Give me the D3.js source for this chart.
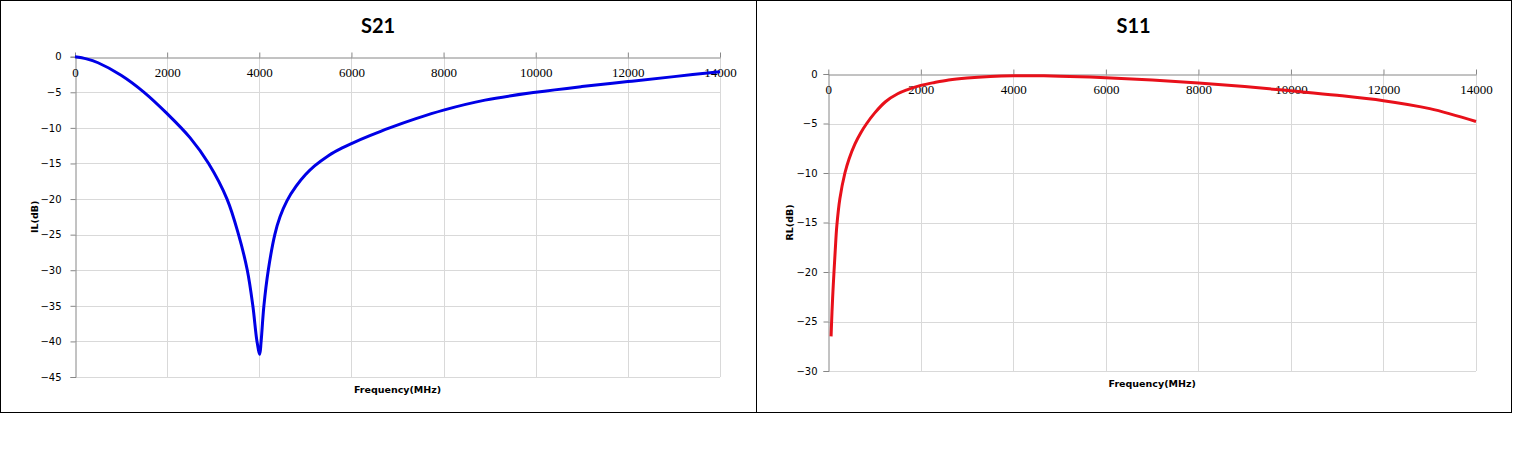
<!DOCTYPE html>
<html>
<head>
<meta charset="utf-8">
<script src="https://cdn.jsdelivr.net/npm/d3@7"></script>
<style>
  body { margin: 0; background: #fff; }
  svg { display: block; }
</style>
</head>
<body>
<svg id="page" width="1513" height="460"></svg>
<script>
/*
S21 / S11
Two frequency response charts side by side
*/

// X axis ticks (MHz)
var freqTicks = [0, 2000, 4000, 6000, 8000, 10000, 12000, 14000];

// S21 insertion loss
var s21Freq = [0, 250, 500, 1000, 1500, 2000, 2500, 2900, 3300, 3550, 3740, 3860, 3950, 4010,
  4040, 4100, 4195, 4337, 4450, 4600, 4800, 5000, 5200, 5500, 5800, 6000, 6400, 6830, 7400,
  8000, 8900, 10000, 11000, 12000, 13000, 14000];
var s21Loss = [0, -0.3, -0.85, -2.6, -5.0, -8.0, -11.4, -15.0, -20.0, -25.0, -30.0, -35.0, -40.0, -41.8,
  -40.0, -35.0, -30.0, -25.0, -22.5, -20.25, -18.2, -16.6, -15.35, -13.9, -12.8, -12.2, -11.1, -10.0, -8.7,
  -7.5, -6.1, -5.0, -4.2, -3.5, -2.8, -2.1];
var ilTicks = [0, -5, -10, -15, -20, -25, -30, -35, -40, -45];

// S11 return loss
var s11Freq = [60, 80, 100, 123, 150, 185, 250, 359, 450, 577, 700, 830, 1000, 1236, 1500, 1700,
  2000, 2300, 2600, 3000, 3500, 4000, 4500, 5000, 6000, 7000, 8000, 9000, 10000, 11000,
  12000, 13000, 14000];
var s11Loss = [-26.5, -24.0, -22.0, -20.0, -17.8, -15.3, -12.6, -10.0, -8.55, -7.05, -5.95, -5.0, -3.95, -2.8, -2.0, -1.6,
  -1.15, -0.85, -0.6, -0.4, -0.25, -0.18, -0.18, -0.22, -0.37, -0.6, -0.9, -1.27, -1.7, -2.15,
  -2.7, -3.5, -4.8];
var rlTicks = [0, -5, -10, -15, -20, -25, -30];

var svg = d3.select("#page");

// Draw one chart panel
function drawChart(o) {
  var g = svg.append("g")
    .attr("class", "chart " + o.id)
    ;

  // Outer frame
  g.append("rect")
    .attr("x", o.box[0] + 0.5)
    .attr("y", 0.5)
    .attr("width", o.box[1] - o.box[0])
    .attr("height", 412)
    .style("fill", "none")
    .style("stroke", "#000")
    .style("stroke-width", 1)
    ;

  var x = d3.scaleLinear().domain([0, 14000]).range(o.xr);
  var y = d3.scaleLinear().domain([o.yTicks[o.yTicks.length - 1], 0]).range(o.yr);

  // Horizontal gridlines
  g.append("g")
    .selectAll("line")
    .data(o.yTicks.slice(1))
    .enter().append("line")
      .attr("x1", o.xr[0])
      .attr("x2", o.xr[1])
      .attr("y1", function(d) { return Math.round(y(d)) + 0.5; })
      .attr("y2", function(d) { return Math.round(y(d)) + 0.5; })
      .style("stroke", "#d9d9d9")
    ;

  // Vertical gridlines
  g.append("g")
    .selectAll("line")
    .data(freqTicks.slice(1))
    .enter().append("line")
      .attr("x1", function(d) { return Math.round(x(d)) + 0.5; })
      .attr("x2", function(d) { return Math.round(x(d)) + 0.5; })
      .attr("y1", o.yr[1])
      .attr("y2", o.yr[0])
      .style("stroke", "#d9d9d9")
    ;

  // Y axis (left, ticks out)
  var yAxis = d3.axisLeft(y)
    .tickValues(o.yTicks)
    .tickSize(5)
    .tickPadding(o.yPad)
    .tickFormat(d3.format("d"))
    ;
  var ya = g.append("g")
    .attr("transform", "translate(" + (Math.round(o.xr[0]) + 0.5) + ",0)")
    .call(yAxis)
    ;
  ya.select(".domain").style("stroke", "#868686");
  ya.selectAll(".tick line").style("stroke", "#868686");
  ya.selectAll("text")
    .style("font-family", "'DejaVu Sans', sans-serif")
    .style("font-size", "10px")
    .style("fill", "#000")
    ;

  // X axis sits at 0 dB, ticks pointing up, labels under the line
  var xAxis = d3.axisTop(x)
    .tickValues(freqTicks)
    .tickSize(5)
    .tickSizeOuter(0)
    .tickFormat(d3.format("d"))
    ;
  var xa = g.append("g")
    .attr("transform", "translate(0," + (Math.round(y(0)) + 0.5) + ")")
    .call(xAxis)
    ;
  xa.select(".domain").style("stroke", "#868686");
  xa.selectAll(".tick line").style("stroke", "#868686");
  xa.selectAll("text")
    .attr("y", 19)
    .attr("dy", 0)
    .style("font-family", "'Liberation Serif', serif")
    .style("font-size", "13px")
    .style("fill", "#000")
    ;

  // Curve
  var line = d3.line()
    .x(function(d) { return x(d[0]); })
    .y(function(d) { return y(d[1]); })
    .curve(d3.curveCatmullRom.alpha(0.5))
    ;
  g.append("path")
    .datum(d3.zip(o.freq, o.loss))
    .attr("d", line)
    .style("fill", "none")
    .style("stroke", o.color)
    .style("stroke-width", 3)
    .style("stroke-linejoin", "round")
    ;

  // Title
  g.append("text")
    .attr("x", (o.box[0] + o.box[1]) / 2)
    .attr("y", 33)
    .attr("text-anchor", "middle")
    .style("font-family", "Lato, sans-serif")
    .style("font-weight", "bold")
    .style("font-size", "20px")
    .text(o.title)
    ;

  // Axis titles
  g.append("text")
    .attr("x", (o.xr[0] + o.xr[1]) / 2)
    .attr("y", o.yr[0] + 16)
    .attr("text-anchor", "middle")
    .style("font-family", "'DejaVu Sans', sans-serif")
    .style("font-weight", "bold")
    .style("font-size", "9.5px")
    .text("Frequency(MHz)")
    ;
  g.append("text")
    .attr("transform", "translate(" + o.yTitleX + "," + ((o.yr[0] + o.yr[1]) / 2) + ") rotate(-90)")
    .attr("text-anchor", "middle")
    .style("font-family", "'DejaVu Sans', sans-serif")
    .style("font-weight", "bold")
    .style("font-size", "9.5px")
    .text(o.yTitle)
    ;
}

drawChart({
  id: "s21", title: "S21", yTitle: "IL(dB)",
  box: [0, 756], xr: [75, 720], yr: [377, 56.7],
  yTicks: ilTicks, yPad: 9, yTitleX: 38,
  freq: s21Freq, loss: s21Loss, color: "#0000e6"
});

drawChart({
  id: "s11", title: "S11", yTitle: "RL(dB)",
  box: [756, 1511], xr: [828.3, 1476], yr: [371, 74],
  yTicks: rlTicks, yPad: 6, yTitleX: 793,
  freq: s11Freq, loss: s11Loss, color: "#e8101a"
});
</script>
</body>
</html>
